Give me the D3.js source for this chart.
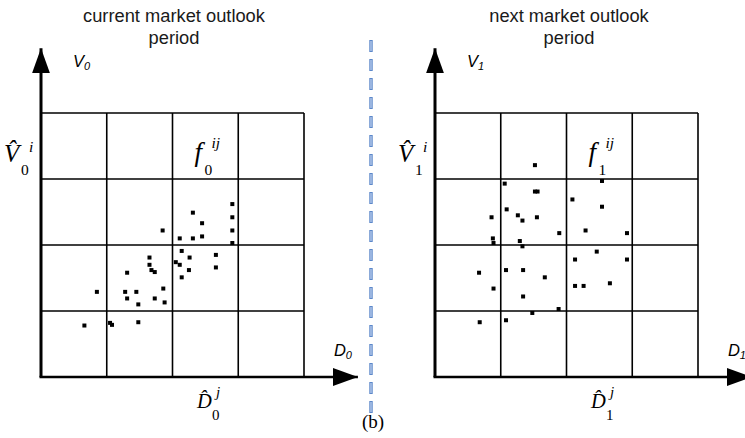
<!DOCTYPE html>
<html>
<head>
<meta charset="utf-8">
<script src="https://cdn.jsdelivr.net/npm/d3@7"></script>
<style>
  html, body { margin: 0; padding: 0; background: #fff; }
  svg { display: block; }
</style>
</head>
<body>
<svg id="chart" width="745" height="438"></svg>
<script>
// Grid cells (bins) along each axis
const binEdges = [0, 1, 2, 3, 4];

// Current period: demand D0 and value V0 of each observation
const currentD = [0.66, 0.85, 1.05, 1.08, 1.48, 1.31, 1.28, 1.31, 1.45, 1.48, 1.65, 1.65, 1.68, 1.73, 1.86, 1.73, 1.88,
  1.85, 2.05, 2.11, 2.14, 2.26, 2.25, 2.14, 2.66, 2.66, 2.11, 2.31, 2.45, 2.45, 2.31, 2.91, 2.91, 2.91, 2.91];
const currentV = [0.78, 1.29, 0.82, 0.79, 0.83, 1.58, 1.29, 1.19, 1.29, 1.10, 1.81, 1.70, 1.62, 1.59, 1.34, 1.19, 1.13,
  2.22, 1.74, 1.70, 1.91, 1.81, 1.62, 1.51, 1.85, 1.66, 2.10, 2.10, 2.13, 2.33, 2.49, 2.62, 2.42, 2.22, 2.03];

// Next period: demand D1 and value V1 of each observation
const nextD = [1.52, 1.06, 2.54, 1.52, 1.56, 2.09, 2.54, 1.09, 0.86, 1.26, 1.33, 1.55, 1.89, 2.29, 2.92, 0.88, 0.89,
  1.29, 1.33, 2.46, 2.13, 2.92, 0.67, 1.08, 1.34, 1.67, 0.89, 2.13, 2.26, 2.66, 1.34, 1.88, 1.48, 0.68, 1.08];
const nextV = [3.21, 2.93, 2.97, 2.81, 2.81, 2.69, 2.58, 2.54, 2.42, 2.45, 2.37, 2.42, 2.18, 2.22, 2.18, 2.10, 2.03,
  2.06, 1.98, 1.90, 1.78, 1.78, 1.58, 1.62, 1.62, 1.51, 1.34, 1.38, 1.38, 1.42, 1.22, 1.03, 0.97, 0.83, 0.86];

// Panel texts
const titles = [["current market outlook", "period"], ["next market outlook", "period"]];
const axisNames = [["V", "0", "D", "0"], ["V", "1", "D", "1"]];
const subscripts = ["0", "1"];

const svg = d3.select("#chart");
const serif = "'Liberation Serif', 'Times New Roman', serif";
const sans = "'Liberation Sans', Arial, sans-serif";

const y = d3.scaleLinear().domain([0, 4]).range([377, 113]);
const xScales = [
  d3.scaleLinear().domain([0, 4]).range([41, 304]),
  d3.scaleLinear().domain([0, 4]).range([435, 698])
];
const xAxisEnd = 4.82, yAxisEnd = 4.98;

// arrow heads
svg.append("defs").append("marker")
  .attr("id", "arrow")
  .attr("viewBox", "0 0 25 18")
  .attr("refX", 25).attr("refY", 9)
  .attr("markerWidth", 25).attr("markerHeight", 18)
  .attr("markerUnits", "userSpaceOnUse")
  .attr("orient", "auto")
  .append("path").attr("d", "M0,0 L25,9 L0,18 Z").attr("fill", "#000");

// a small math label built from absolutely positioned pieces
function mathLabel(parts) {
  const t = svg.append("text").attr("font-family", serif).attr("fill", "#000");
  parts.forEach(p => t.append("tspan")
    .attr("x", p.x).attr("y", p.y)
    .attr("font-size", p.size)
    .attr("font-style", p.italic ? "italic" : "normal")
    .text(p.s));
}

const panels = [
  { x: xScales[0], d: currentD, v: currentV },
  { x: xScales[1], d: nextD, v: nextV }
];

panels.forEach((p, k) => {
  const g = svg.append("g");
  const x = p.x;

  // grid
  g.selectAll("line.gx").data(binEdges.slice(1)).join("line")
    .attr("x1", d => x(d)).attr("x2", d => x(d))
    .attr("y1", y(0)).attr("y2", y(4))
    .attr("stroke", "#000").attr("stroke-width", 1.6);
  g.selectAll("line.gy").data(binEdges.slice(1)).join("line")
    .attr("x1", x(0)).attr("x2", x(4))
    .attr("y1", d => y(d)).attr("y2", d => y(d))
    .attr("stroke", "#000").attr("stroke-width", 1.6);

  // axes with arrows
  g.append("line")
    .attr("x1", x(0)).attr("y1", y(0)).attr("x2", x(0)).attr("y2", y(yAxisEnd))
    .attr("stroke", "#000").attr("stroke-width", 3).attr("marker-end", "url(#arrow)");
  g.append("line")
    .attr("x1", x(0) - 1.5).attr("y1", y(0)).attr("x2", x(xAxisEnd)).attr("y2", y(0))
    .attr("stroke", "#000").attr("stroke-width", 2.6).attr("marker-end", "url(#arrow)");

  // points
  g.selectAll("rect.pt").data(p.d.map((d, i) => [d, p.v[i]])).join("rect")
    .attr("x", d => x(d[0]) - 2).attr("y", d => y(d[1]) - 2)
    .attr("width", 4).attr("height", 4).attr("fill", "#000");

  // title
  const cx = k === 0 ? 174 : 569;
  const t = svg.append("text").attr("font-family", sans).attr("font-size", 18.3)
    .attr("text-anchor", "middle").attr("fill", "#1a1a1a");
  titles[k].forEach((line, i) => t.append("tspan").attr("x", cx).attr("y", 22 + i * 22).text(line));

  // axis names
  const an = axisNames[k];
  const vt = svg.append("text").attr("x", x(0) + 32).attr("y", 67)
    .attr("font-family", sans).attr("font-style", "italic").attr("font-size", 16.5);
  vt.append("tspan").text(an[0]);
  vt.append("tspan").attr("font-size", 11).attr("dy", 3).text(an[1]);
  const dt = svg.append("text").attr("x", x(xAxisEnd) - 24).attr("y", 356)
    .attr("font-family", sans).attr("font-style", "italic").attr("font-size", 16.5);
  dt.append("tspan").text(an[2]);
  dt.append("tspan").attr("font-size", 11).attr("dy", 3).text(an[3]);

  const sub = subscripts[k];

  // V-hat label beside the fourth row
  const vx = x(0) - 37;
  mathLabel([
    { s: "V\u0302", x: vx, y: 162, size: 25, italic: true },
    { s: sub, x: vx + 17, y: 175, size: 15.5 },
    { s: "i", x: vx + 25, y: 152, size: 15.5, italic: true }
  ]);

  // f label in the top cell
  const fx = x(2) + 22;
  mathLabel([
    { s: "f", x: fx, y: 161, size: 27, italic: true },
    { s: sub, x: fx + 10, y: 175, size: 15.5 },
    { s: "ij", x: fx + 17, y: 148, size: 15.5, italic: true }
  ]);

  // D-hat label below the axis
  const dx = x(0) + 156;
  mathLabel([
    { s: "D\u0302", x: dx, y: 408, size: 20.5, italic: true },
    { s: sub, x: dx + 15, y: 420, size: 15 },
    { s: "j", x: dx + 19, y: 397, size: 15, italic: true }
  ]);
});

// dashed separator between the two periods
svg.append("line").attr("x1", 371).attr("x2", 371).attr("y1", 40).attr("y2", 416)
  .attr("stroke", "#5b87c9").attr("stroke-width", 3.4).attr("stroke-dasharray", "12 7");
svg.append("line").attr("x1", 371).attr("x2", 371).attr("y1", 41).attr("y2", 416)
  .attr("stroke", "#c3d4f0").attr("stroke-width", 1.2).attr("stroke-dasharray", "10 9");

// caption
svg.append("text").attr("x", 373).attr("y", 428).attr("text-anchor", "middle")
  .attr("font-family", serif).attr("font-size", 19).text("(b)");
</script>
</body>
</html>
